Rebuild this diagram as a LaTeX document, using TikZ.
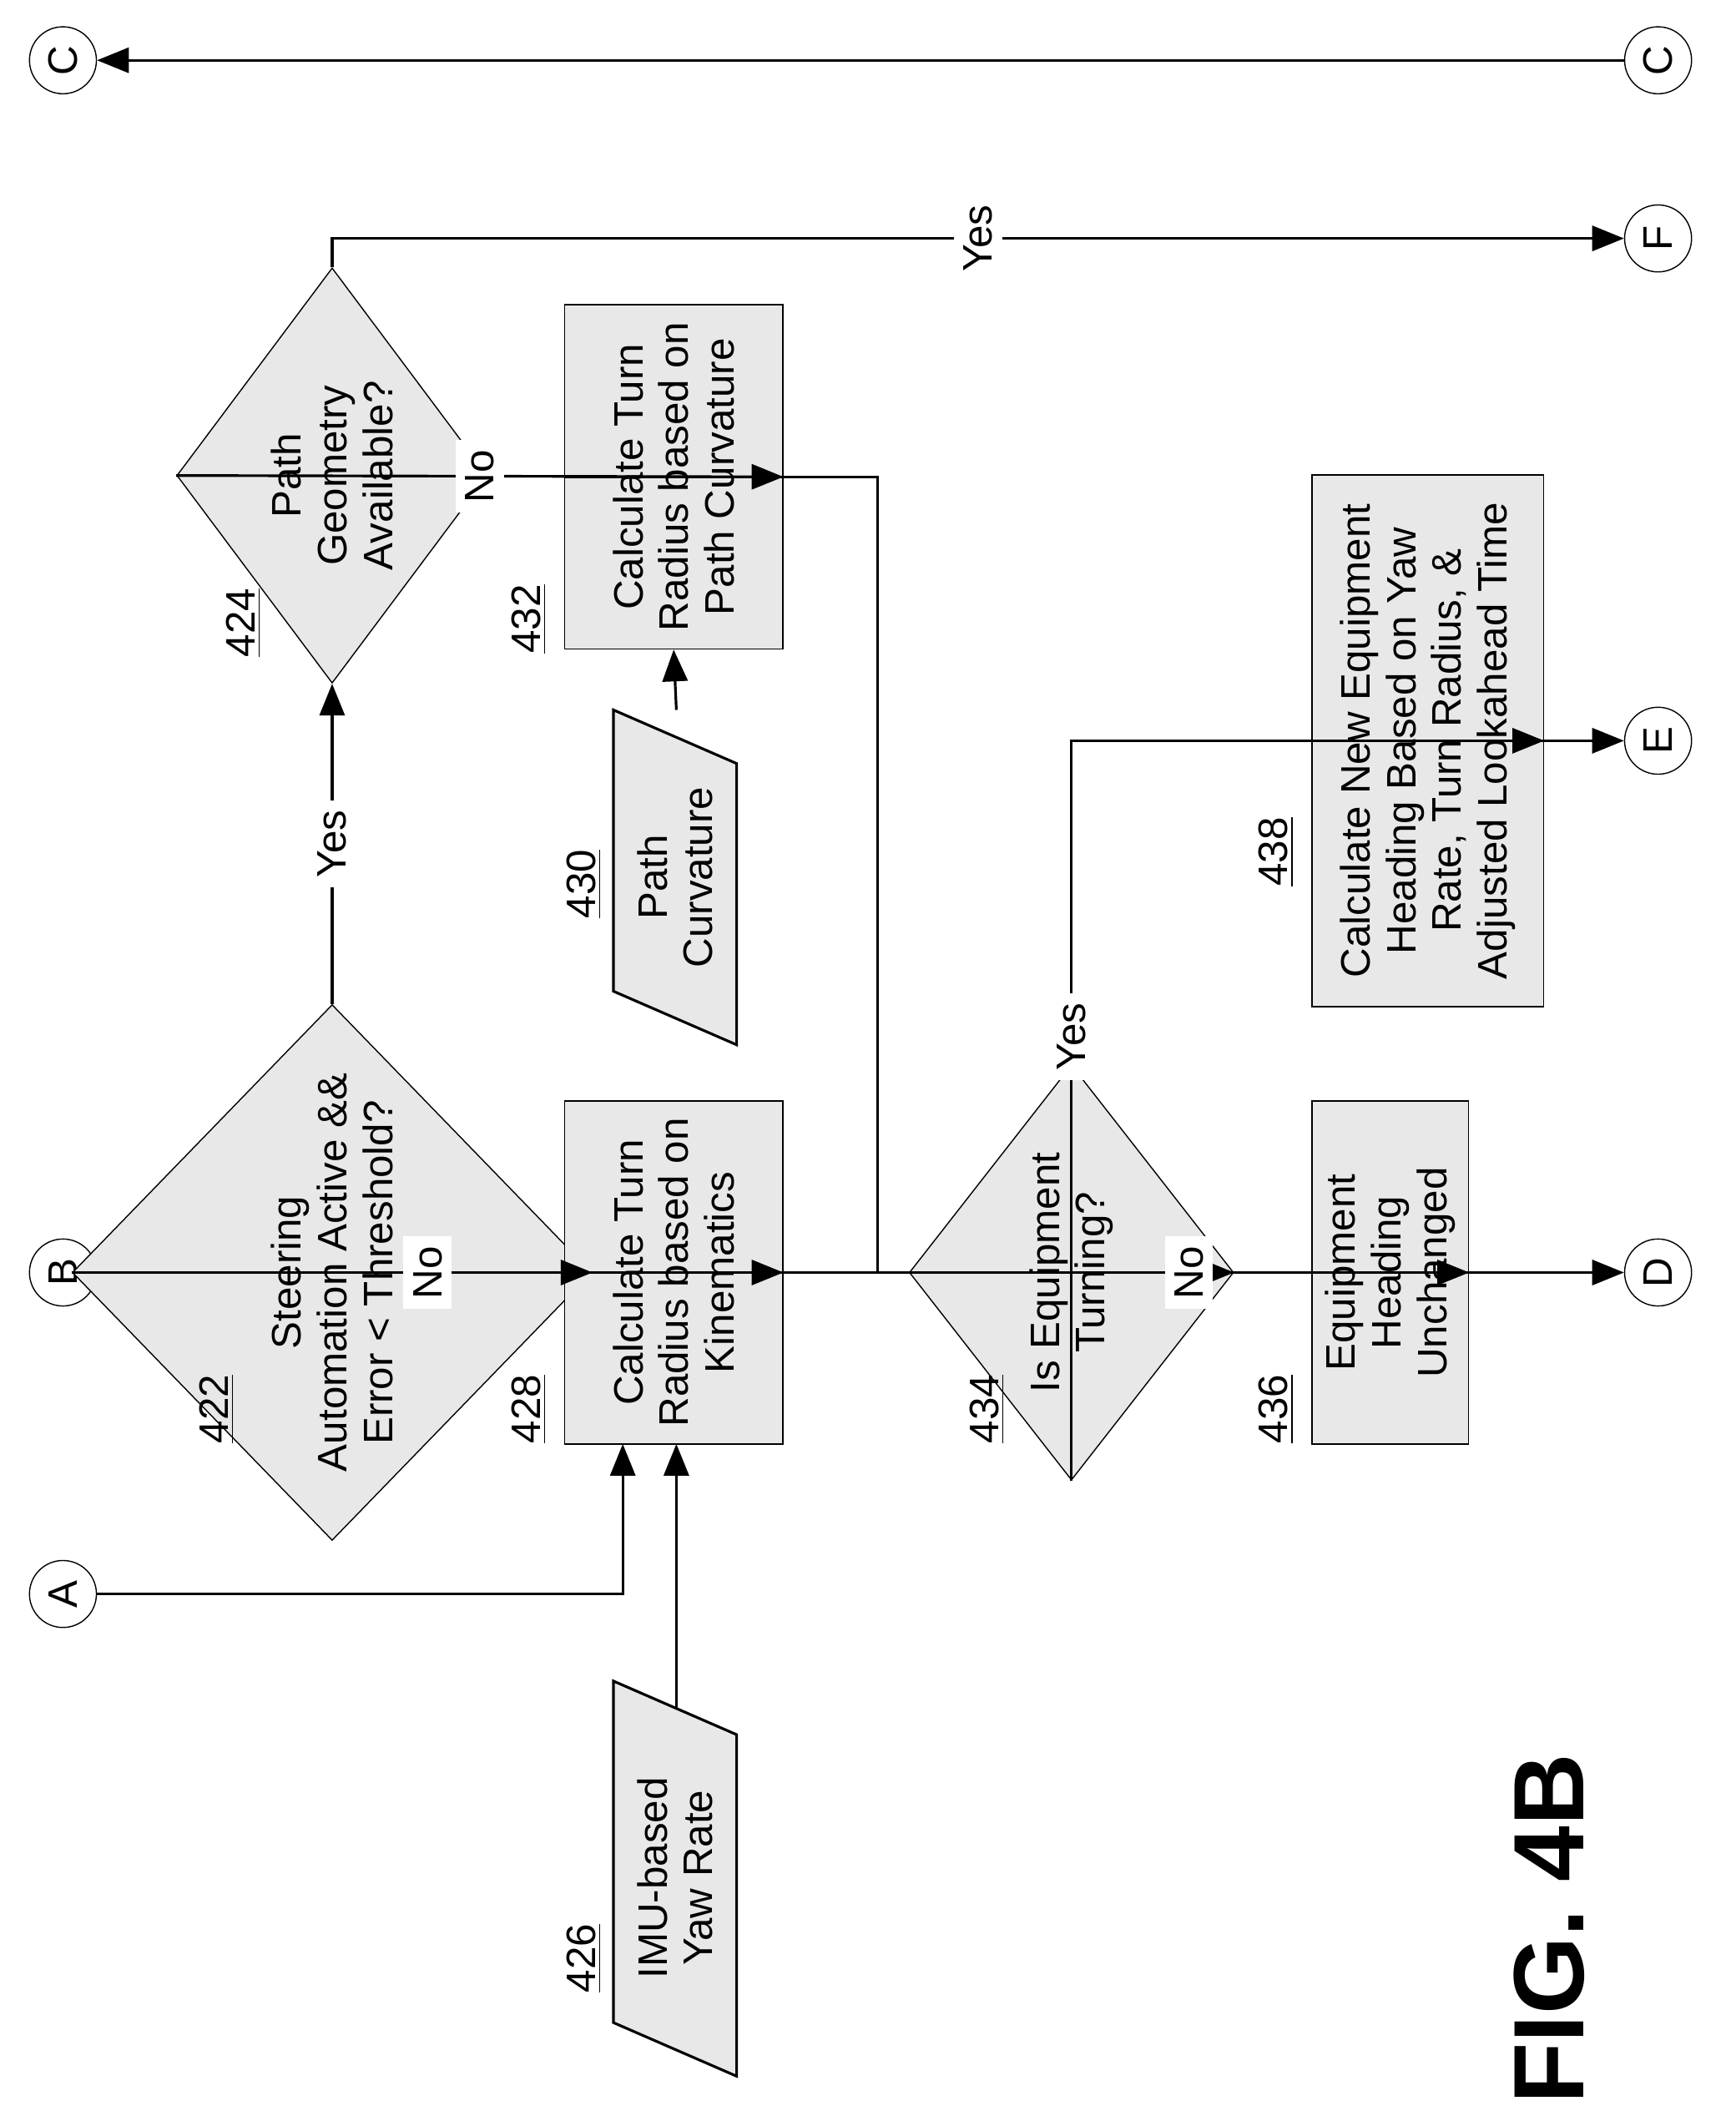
\documentclass[tikz,border=0pt]{standalone}
\usepackage{fontspec}
\setmainfont{Liberation Sans}
\usetikzlibrary{shapes.geometric,arrows.meta}
\newdimen\ux \ux=0.016cm
\tikzset{
  every node/.style={font=\fontsize{14}{15.5}\selectfont, align=center},
  blk/.style={draw, rotate=90, fill=gray!18, inner sep=0pt},
  dec/.style={draw, diamond, rotate=90, fill=gray!18, inner sep=0pt},
  con/.style={draw, circle, minimum size=50\ux, inner sep=0pt, rotate=90},
  lbl/.style={rotate=90},
  arr/.style={line width=0.9pt, -{Triangle[length=0.38cm,width=0.3cm]}},
  ln/.style={line width=0.9pt},
}
\begin{document}
\begin{tikzpicture}[x=0.016cm, y=-0.016cm]
\useasboundingbox (0,0) rectangle (1296,1576);

% connectors
\node[con] (cl) at (47,45) {C};
\node[con] (cr) at (1238,45) {C};
\node[con] (f) at (1238,178) {F};
\node[con] (e) at (1238,553) {E};
\node[con] (d) at (1238,950) {D};
\node[con] (b) at (47,950) {B};
\node[con] (a) at (47,1190) {A};

% decisions
\node[dec, minimum width=400\ux, minimum height=207\ux] (422) at (248,950) {Steering\\Automation Active \&\&\\Error < Threshold?};
\node[dec, minimum width=310\ux, minimum height=165\ux] (424) at (248,355) {Path\\Geometry\\Available?};
\node[dec, minimum width=310\ux, minimum height=160\ux] (434) at (800,950) {Is Equipment\\Turning?};

% processes
\node[blk, minimum width=256\ux, minimum height=163\ux] (428) at (503,950) {Calculate Turn\\Radius based on\\Kinematics};
\node[blk, minimum width=257\ux, minimum height=163\ux] (432) at (503,356) {Calculate Turn\\Radius based on\\Path Curvature};
\node[blk, minimum width=256\ux, minimum height=117\ux] (436) at (1038,950) {Equipment\\Heading\\Unchanged};
\node[blk, minimum width=397\ux, minimum height=173\ux] (438) at (1066,553) {Calculate New Equipment\\Heading Based on Yaw\\Rate, Turn Radius, \&\\Adjusted Lookahead Time};

% inputs
\draw[ln, fill=gray!18] (458,530) -- (550,570) -- (550,780) -- (458,740) -- cycle;
\node[lbl] (430) at (504,655) {Path\\Curvature};
\draw[ln, fill=gray!18] (458,1255) -- (550,1295) -- (550,1550) -- (458,1510) -- cycle;
\node[lbl] (426) at (504,1402) {IMU-based\\Yaw Rate};
\coordinate (430t) at (505,530);
\coordinate (426t) at (505,1275);

% numbers
\node[lbl] at (162,1052) {\underline{422}};
\node[lbl] at (182,465) {\underline{424}};
\node[lbl] at (395,1052) {\underline{428}};
\node[lbl] at (395,462) {\underline{432}};
\node[lbl] at (436,660) {\underline{430}};
\node[lbl] at (436,1462) {\underline{426}};
\node[lbl] at (737,1052) {\underline{434}};
\node[lbl] at (953,1052) {\underline{436}};
\node[lbl] at (953,636) {\underline{438}};
\node[lbl, font=\bfseries\fontsize{34}{36}\selectfont] at (1157,1440) {FIG. 4B};

% flow
\draw[arr] (cr) -- (cl);
\draw[arr] (b) -- (422.south);
\draw[arr] (422.north) -- node[lbl, fill=white] {No} (428.south);
\draw[arr] (422.east) -- node[lbl, fill=white] {Yes} (424.west);
\draw[arr] (424.east) |- node[lbl, fill=white, pos=0.75] {Yes} (f);
\draw[arr] (424.north) -- node[lbl, fill=white] {No} (432.south);
\draw[arr] (a) -| (465,1078);
\draw[arr] (426t) -- (505,1078);
\draw[arr] (430t) -- (432.west);
\draw[ln] (432.north) -| (655,950);
\draw[arr] (428.north) -- (434.south);
\draw[arr] (434.west) |- node[lbl, fill=white, pos=0.3] {Yes} (438.south);
\draw[arr] (434.north) -- node[lbl, fill=white] {No} (436.south);
\draw[arr] (436.north) -- (d);
\draw[arr] (438.north) -- (e);
\end{tikzpicture}
\end{document}
